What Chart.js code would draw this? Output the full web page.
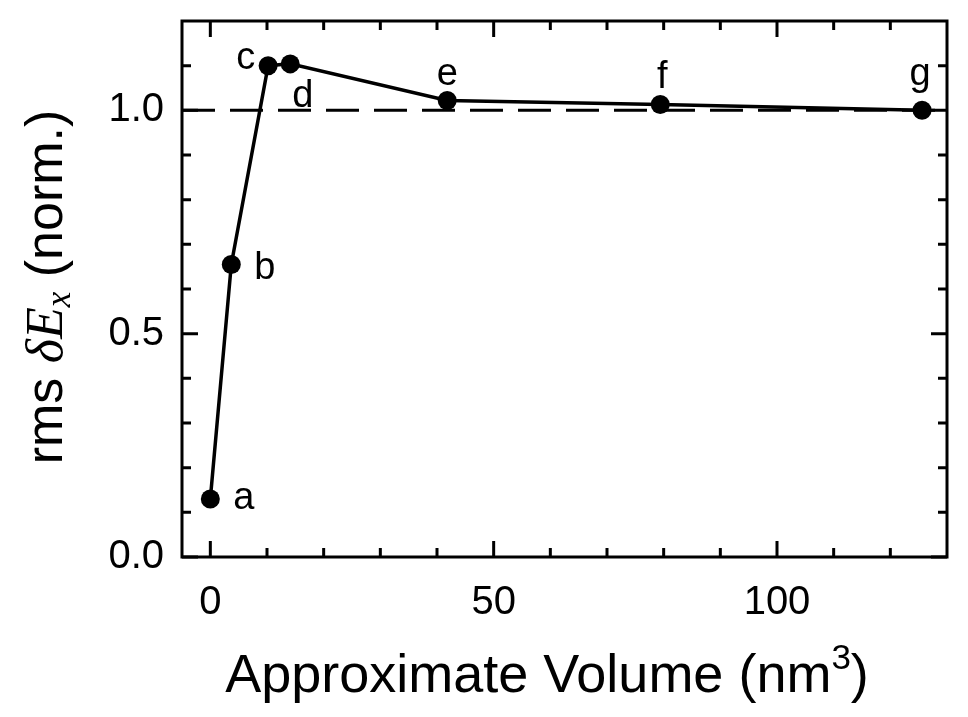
<!DOCTYPE html>
<html>
<head>
<meta charset="utf-8">
<script src="https://cdn.jsdelivr.net/npm/chart.js@4.4.1/dist/chart.umd.min.js"></script>
<style>
html,body{margin:0;padding:0;background:#fff;}
canvas{display:block;}
</style>
</head>
<body>
<canvas id="c" width="968" height="717"></canvas>
<script>
// ---- data ----
const pointLabels = ['a','b','c','d','e','f','g'];
const volumes = [0, 3.7, 10.2, 14.1, 41.8, 79.4, 125.6];
const rmsValues = [0.13, 0.655, 1.10, 1.104, 1.022, 1.013, 1.0];
const referenceLevel = 1.0;
const xRange = [-5, 130];
const yRange = [0, 1.2];
const xMajorTicks = [0, 50, 100];
const yMajorTicks = [0.0, 0.5, 1.0];
const xMinorTicks = [10, 20, 30, 40, 60, 70, 80, 90, 110, 120];
const yMinorTicks = [0.1, 0.2, 0.3, 0.4, 0.6, 0.7, 0.8, 0.9, 1.1];
const xTitle = ['Approximate Volume (nm', '3', ')'];
const yTitle = ['rms ', 'δE', 'x', ' (norm.)'];

// label offsets (style)
const labelStyle = {
  a: {dx: 23, dy: 10, align: 'left'},
  b: {dx: 23, dy: 15, align: 'left'},
  c: {dx: -13, dy: 3, align: 'right'},
  d: {dx: 2, dy: 43, align: 'left'},
  e: {dx: 0, dy: -16, align: 'center'},
  f: {dx: 2, dy: -17, align: 'center'},
  g: {dx: -2, dy: -25, align: 'center'}
};

const SANS = '"Liberation Sans", Arial, sans-serif';
const SERIF = '"Liberation Serif", "Times New Roman", serif';

const framePlugin = {
  id: 'frame',
  afterDraw(chart) {
    const ctx = chart.ctx;
    const a = chart.chartArea;
    const xs = chart.scales.x, ys = chart.scales.y;
    ctx.save();
    ctx.strokeStyle = '#000';
    ctx.lineWidth = 3;
    ctx.lineCap = 'butt';
    ctx.strokeRect(a.left, a.top, a.right - a.left, a.bottom - a.top);
    // inward ticks
    const majorLen = 16, minorLen = 9;
    ctx.lineWidth = 3;
    ctx.beginPath();
    const vt = (v, len) => {
      const px = xs.getPixelForValue(v);
      ctx.moveTo(px, a.bottom); ctx.lineTo(px, a.bottom - len);
      ctx.moveTo(px, a.top); ctx.lineTo(px, a.top + len);
    };
    const ht = (v, len) => {
      const py = ys.getPixelForValue(v);
      ctx.moveTo(a.left, py); ctx.lineTo(a.left + len, py);
      ctx.moveTo(a.right, py); ctx.lineTo(a.right - len, py);
    };
    xMajorTicks.forEach(v => vt(v, majorLen));
    xMinorTicks.forEach(v => vt(v, minorLen));
    yMajorTicks.forEach(v => ht(v, majorLen));
    yMinorTicks.forEach(v => ht(v, minorLen));
    ctx.stroke();

    // point labels
    ctx.fillStyle = '#000';
    ctx.font = '38px ' + SANS;
    ctx.textBaseline = 'alphabetic';
    pointLabels.forEach((lab, i) => {
      const s = labelStyle[lab];
      const px = xs.getPixelForValue(volumes[i]);
      const py = ys.getPixelForValue(rmsValues[i]);
      ctx.textAlign = s.align;
      ctx.fillText(lab, px + s.dx, py + s.dy);
    });

    // x title
    ctx.textAlign = 'left';
    const f1 = '54px ' + SANS, f2 = '35px ' + SANS;
    ctx.font = f1; const w1 = ctx.measureText(xTitle[0]).width; const w3 = ctx.measureText(xTitle[2]).width;
    ctx.font = f2; const w2 = ctx.measureText(xTitle[1]).width;
    let x0 = 547 - (w1 + w2 + w3) / 2;
    const base = 692;
    ctx.font = f1; ctx.fillText(xTitle[0], x0, base); x0 += w1;
    ctx.font = f2; ctx.fillText(xTitle[1], x0, base - 23); x0 += w2;
    ctx.font = f1; ctx.fillText(xTitle[2], x0, base);

    // y title
    ctx.save();
    ctx.translate(62, 287);
    ctx.rotate(-Math.PI / 2);
    const fa = '52px ' + SANS, fb = 'italic 52px ' + SERIF, fc = 'italic 35px ' + SERIF;
    const parts = [[yTitle[0], fa, 0], [yTitle[1], fb, 0], [yTitle[2], fc, 8], [yTitle[3], fa, 0]];
    let tot = 0;
    parts.forEach(p => { ctx.font = p[1]; p.push(ctx.measureText(p[0]).width); tot += p[3]; });
    let xx = -tot / 2;
    parts.forEach(p => { ctx.font = p[1]; ctx.fillText(p[0], xx, p[2]); xx += p[3]; });
    ctx.restore();
    ctx.restore();
  }
};

const chart = new Chart(document.getElementById('c'), {
  type: 'line',
  data: {
    datasets: [
      {
        data: volumes.map((v, i) => ({x: v, y: rmsValues[i]})),
        borderColor: '#000',
        backgroundColor: '#000',
        borderWidth: 3.5,
        pointRadius: 9.5,
        pointHoverRadius: 9.5,
        pointBackgroundColor: '#000',
        pointBorderWidth: 0,
        tension: 0,
        clip: false,
        order: 1
      },
      {
        data: [{x: xRange[0], y: referenceLevel}, {x: xRange[1], y: referenceLevel}],
        borderColor: '#000',
        borderWidth: 3,
        borderDash: [33, 15],
        pointRadius: 0,
        tension: 0,
        order: 2
      }
    ]
  },
  options: {
    responsive: false,
    animation: false,
    devicePixelRatio: 1,
    layout: {padding: {left: 0, top: 21, right: 21, bottom: 0}},
    plugins: {legend: {display: false}, tooltip: {enabled: false}},
    scales: {
      x: {
        type: 'linear',
        min: xRange[0], max: xRange[1],
        afterBuildTicks: s => { s.ticks = xMajorTicks.map(v => ({value: v})); },
        afterFit: s => { s.height = 160; s.paddingLeft = 0; s.paddingRight = 0; },
        grid: {display: false, drawTicks: false, tickLength: 0},
        border: {display: false},
        ticks: {color: '#000', font: {family: SANS, size: 40}, padding: 22, maxRotation: 0,
          callback: v => String(v)}
      },
      y: {
        type: 'linear',
        min: yRange[0], max: yRange[1],
        afterBuildTicks: s => { s.ticks = yMajorTicks.map(v => ({value: v})); },
        afterFit: s => { s.width = 182; s.paddingTop = 0; s.paddingBottom = 0; },
        grid: {display: false, drawTicks: false, tickLength: 0},
        border: {display: false},
        ticks: {color: '#000', font: {family: SANS, size: 40}, padding: 18,
          callback: v => Number(v).toFixed(1)}
      }
    }
  },
  plugins: [framePlugin]
});
</script>
</body>
</html>
